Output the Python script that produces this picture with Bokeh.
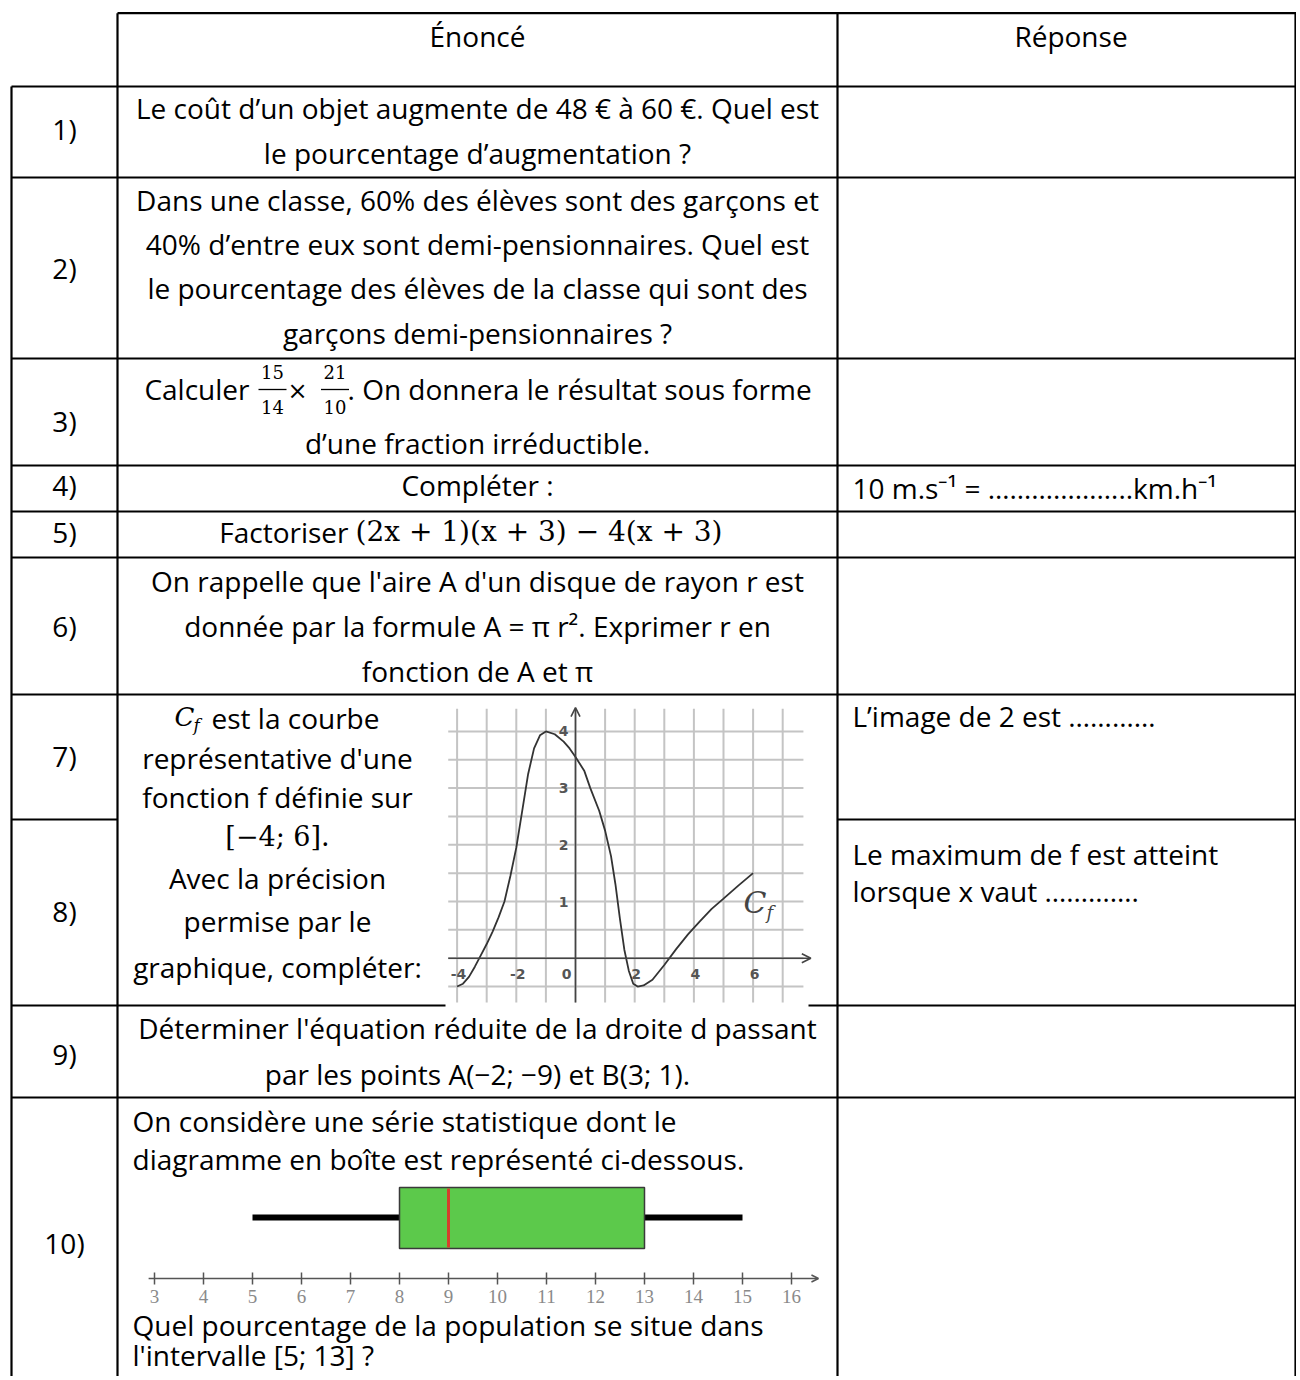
from bokeh.plotting import figure
from bokeh.models import Range1d, Arrow, OpenHead
from bokeh.core.properties import value
from bokeh.embed import file_html
from bokeh.resources import INLINE

# ---------------- content ----------------
HEADERS = ["Énoncé", "Réponse"]
ROW_NUMBERS = ["1)", "2)", "3)", "4)", "5)", "6)", "7)", "8)", "9)", "10)"]

Q1 = ["Le coût d’un objet augmente de 48 € à 60 €. Quel est",
      "le pourcentage d’augmentation ?"]
Q2 = ["Dans une classe, 60% des élèves sont des garçons et",
      "40% d’entre eux sont demi-pensionnaires. Quel est",
      "le pourcentage des élèves de la classe qui sont des",
      "garçons demi-pensionnaires ?"]
Q3_HEAD = "Calculer"
Q3_FRACS = [("15", "14"), ("21", "10")]
Q3_TAIL = ". On donnera le résultat sous forme"
Q3_LINE2 = "d’une fraction irréductible."
Q4 = "Compléter :"
Q5_HEAD = "Factoriser"
Q5_MATH = "(2x + 1)(x + 3) − 4(x + 3)"
Q6 = ["On rappelle que l'aire A d'un disque de rayon r est",
      "donnée par la formule A = π r². Exprimer r en",
      "fonction de A et π"]
Q78 = ["représentative d'une", "fonction f définie sur", "[−4; 6].",
       "Avec la précision", "permise par le", "graphique, compléter:"]
Q9 = ["Déterminer l'équation réduite de la droite d passant",
      "par les points A(−2; −9) et B(3; 1)."]
Q10 = ["On considère une série statistique dont le",
       "diagramme en boîte est représenté ci-dessous.",
       "Quel pourcentage de la population se situe dans",
       "l'intervalle [5; 13] ?"]
R4 = "10 m.s⁻¹ = ………………..km.h⁻¹"
R7 = "L’image de 2 est …………"
R8 = ["Le maximum de f est atteint", "lorsque x vaut …………."]

# curve C_f
CURVE_X = [-4, -3.8, -3.6, -3.4, -3.2, -3.0, -2.8, -2.6, -2.4, -2.2, -2.0, -1.8,
           -1.6, -1.4, -1.2, -1.0, -0.7, -0.4, -0.2, 0, 0.3, 0.5, 0.8, 1.0, 1.2,
           1.35, 1.5, 1.65, 1.8, 1.95, 2.1, 2.3, 2.6, 3.0, 3.4, 3.8, 4.2, 4.6,
           5.0, 5.5, 6.0]
CURVE_Y = [-0.5, -0.45, -0.33, -0.15, 0.05, 0.25, 0.47, 0.72, 1.0, 1.45, 1.95, 2.6,
           3.25, 3.7, 3.93, 4.0, 3.95, 3.82, 3.7, 3.55, 3.3, 3.0, 2.6, 2.25, 1.8,
           1.3, 0.7, 0.15, -0.22, -0.45, -0.5, -0.48, -0.38, -0.12, 0.16, 0.42,
           0.65, 0.87, 1.05, 1.28, 1.5]
GRAPH_X_LABELS = [-4, -2, 0, 2, 4, 6]
GRAPH_Y_LABELS = [1, 2, 3, 4]
GRAPH_GRID_X = [-4, -3, -2, -1, 0, 1, 2, 3, 4, 5, 6, 7]
GRAPH_GRID_Y = [-0.5, 0, 0.5, 1, 1.5, 2, 2.5, 3, 3.5, 4]
GRAPH_XLIM = (-4.3, 7.7)
GRAPH_YLIM = (-0.78, 4.4)

# box plot
BOX_MIN, BOX_Q1, BOX_MED, BOX_Q3, BOX_MAX = 5, 8, 9, 13, 15
BOX_TICKS = list(range(3, 17))

# ---------------- layout (page pixels) ----------------
W, H = 1296, 1376
L, C1, C2, R = 11, 117, 837, 1296
TOP = 12.7
ROW_Y = [86, 177, 358, 465, 511, 557, 694, 819, 1005, 1097]
FONT = "Open Sans"
FS = "28px"
MATH = "DejaVu Serif"

p = figure(width=W, height=H, x_range=Range1d(0, W), y_range=Range1d(H, 0),
           output_backend="svg", toolbar_location=None, min_border=0,
           x_axis_location=None, y_axis_location=None)
p.grid.visible = False
p.outline_line_color = None
p.background_fill_color = "white"
p.border_fill_color = "white"

# graph ranges: page px = 575 + 29.6 * x ; page py = 957.7 - 56.7 * y
GX0, GUX, GY0, GUY = 575.0, 29.6, 957.7, 56.7
p.extra_x_ranges["gx"] = Range1d((0 - GX0) / GUX, (W - GX0) / GUX)
p.extra_y_ranges["gy"] = Range1d((GY0 - H) / GUY, (GY0 - 0) / GUY)
# box plot x range: page px = 154 + 49 * (v - 3)
p.extra_x_ranges["bx"] = Range1d(3 + (0 - 154) / 49, 3 + (W - 154) / 49)


def txt(x, y, s, size=FS, align="center", font=FONT, style="normal", color="black", **kw):
    p.text(x=[x], y=[y], text=[s], text_font=value(font), text_font_size=size,
           text_align=align, text_baseline="middle", text_color=color,
           text_font_style=style, **kw)


# ---------------- table lines ----------------
hx0, hx1, hy = [C1], [R], [TOP]
for y in ROW_Y:
    if y == 819:
        hx0 += [L, C2]; hx1 += [C1, R]; hy += [y, y]
    elif y == 1005:
        hx0 += [L, 808]; hx1 += [445, R]; hy += [y, y]
    else:
        hx0.append(L); hx1.append(R); hy.append(y)
p.segment(x0=hx0, y0=hy, x1=hx1, y1=hy, line_color="black", line_width=2.2)
p.segment(x0=[L, C1, C2, R - 1], y0=[ROW_Y[0], TOP, TOP, TOP], x1=[L, C1, C2, R - 1],
          y1=[H] * 4, line_color="black", line_width=2.2)

# ---------------- headers and numbers ----------------
txt((C1 + C2) / 2, 35, HEADERS[0])
txt((C2 + R) / 2 + 4, 35, HEADERS[1])
NUM_Y = [128, 267, 420, 484, 531, 625, 755, 910, 1053, 1242]
for lab, y in zip(ROW_NUMBERS, NUM_Y):
    txt((L + C1) / 2, y, lab)

CX = (C1 + C2) / 2
for s, y in zip(Q1, [107, 152]):
    txt(CX, y, s)
for s, y in zip(Q2, [199, 243, 287, 332]):
    txt(CX, y, s)

# row 3 with fractions
txt(249, 388, Q3_HEAD, align="right")
for (num, den), fx in zip(Q3_FRACS, [272, 334.5]):
    txt(fx, 371, num, size="18px", font=MATH)
    txt(fx, 406, den, size="18px", font=MATH)
    p.segment(x0=[fx - 14], x1=[fx + 14], y0=[389], y1=[389], line_color="black", line_width=1.3)
txt(297, 390, "×", size="24px", font=MATH)
txt(347, 388, Q3_TAIL, align="left")
txt(CX, 442, Q3_LINE2)

txt(CX, 484, Q4)
txt(348, 531, Q5_HEAD, align="right")
txt(355, 531, Q5_MATH, size="28px", font=MATH, align="left")

for s, y in zip(Q6, [580, 625, 670]):
    txt(CX, y, s)

# rows 7-8 left text
txt(194, 716, "C", size="26px", font=MATH, style="italic", align="right")
txt(193, 724, "f", size="17px", font=MATH, style="italic", align="left")
txt(211, 717, "est la courbe", align="left")
for s, y in zip(Q78, [757, 796, 836, 877, 920, 966]):
    if s.startswith("["):
        txt(277, y, s, size="27px", font=MATH)
    else:
        txt(277, y, s)

for s, y in zip(Q9, [1027, 1073]):
    txt(CX, y, s)
for s, y in zip(Q10, [1120, 1158, 1324, 1354]):
    txt(132, y, s, align="left")

# answers column
txt(852, 487, R4, align="left")
txt(852, 715, R7, align="left")
txt(852, 853, R8[0], align="left")
txt(852, 890, R8[1], align="left")

# ---------------- graph of C_f ----------------
p.quad(left=[445], right=[808], top=[697], bottom=[1003], fill_color="white", line_color=None)
gkw = dict(x_range_name="gx", y_range_name="gy")
n = len(GRAPH_GRID_X)
p.segment(x0=GRAPH_GRID_X, x1=GRAPH_GRID_X, y0=[GRAPH_YLIM[0]] * n, y1=[GRAPH_YLIM[1]] * n,
          line_color="#c4c4c4", line_width=2, **gkw)
m = len(GRAPH_GRID_Y)
p.segment(x0=[GRAPH_XLIM[0]] * m, x1=[GRAPH_XLIM[1]] * m, y0=GRAPH_GRID_Y, y1=GRAPH_GRID_Y,
          line_color="#c4c4c4", line_width=2, **gkw)
p.add_layout(Arrow(end=OpenHead(size=9, line_width=1.6, line_color="#444444"),
                   x_start=GRAPH_XLIM[0], y_start=0, x_end=7.95, y_end=0,
                   line_color="#444444", line_width=1.6, **gkw))
p.add_layout(Arrow(end=OpenHead(size=9, line_width=1.6, line_color="#444444"),
                   x_start=0, y_start=GRAPH_YLIM[0], x_end=0, y_end=4.42,
                   line_color="#444444", line_width=1.6, **gkw))
p.line(CURVE_X, CURVE_Y, line_color="#333333", line_width=1.8, **gkw)
for v in GRAPH_Y_LABELS:
    p.text(x=[-0.4], y=[v], text=[str(v)], text_font=value("DejaVu Sans"), text_font_size="14px",
           text_font_style="bold", text_align="center", text_baseline="middle",
           text_color="#555555", **gkw)
for v in GRAPH_X_LABELS:
    p.text(x=[v - 0.3 if v == 0 else v + 0.05], y=[-0.27], text=[str(v)],
           text_font=value("DejaVu Sans"), text_font_size="14px", text_font_style="bold",
           text_align="center", text_baseline="middle", text_color="#555555", **gkw)
p.text(x=[6.45], y=[0.98], text=["C"], text_font=value(MATH), text_font_size="30px",
       text_font_style="italic", text_align="right", text_baseline="middle", text_color="#444444", **gkw)
p.text(x=[6.45], y=[0.8], text=["f"], text_font=value(MATH), text_font_size="18px",
       text_font_style="italic", text_align="left", text_baseline="middle", text_color="#444444", **gkw)

# ---------------- box plot ----------------
bkw = dict(x_range_name="bx")
p.segment(x0=[BOX_MIN, BOX_Q3], x1=[BOX_Q1, BOX_MAX], y0=[1217, 1217], y1=[1217, 1217],
          line_color="black", line_width=6, **bkw)
p.quad(left=[BOX_Q1], right=[BOX_Q3], top=[1187], bottom=[1248], fill_color="#5cc94b",
       line_color="#3a3a3a", line_width=1.5, **bkw)
p.segment(x0=[BOX_MED], x1=[BOX_MED], y0=[1188], y1=[1247], line_color="#d5402c", line_width=3, **bkw)
p.add_layout(Arrow(end=OpenHead(size=7, line_width=1.5, line_color="#555555"),
                   x_start=2.88, y_start=1278, x_end=16.55, y_end=1278,
                   line_color="#555555", line_width=1.5, **bkw))
k = len(BOX_TICKS)
p.segment(x0=BOX_TICKS, x1=BOX_TICKS, y0=[1272] * k, y1=[1284] * k,
          line_color="#555555", line_width=1.5, **bkw)
p.text(x=BOX_TICKS, y=[1296] * k, text=[str(t) for t in BOX_TICKS],
       text_font=value("Liberation Serif"), text_font_size="19px", text_align="center",
       text_baseline="middle", text_color="#8a8a8a", **bkw)

open("out.html", "w").write(file_html(p, INLINE))
